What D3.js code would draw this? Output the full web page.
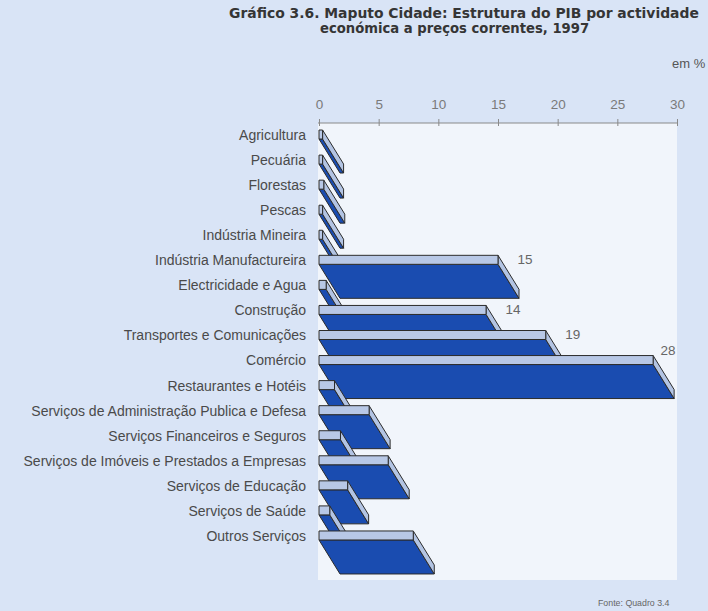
<!DOCTYPE html>
<html>
<head>
<meta charset="utf-8">
<script src="https://cdn.jsdelivr.net/npm/d3@7"></script>
<style>
  html, body { margin: 0; padding: 0; background: #d9e4f6; }
  svg { display: block; }
</style>
</head>
<body>
<svg id="chart" width="708" height="611"></svg>
<script>
// PIB de Maputo Cidade por actividade económica, 1997 (em %)
const categories = [
  "Agricultura",
  "Pecuária",
  "Florestas",
  "Pescas",
  "Indústria Mineira",
  "Indústria Manufactureira",
  "Electricidade e Agua",
  "Construção",
  "Transportes e Comunicações",
  "Comércio",
  "Restaurantes e Hotéis",
  "Serviços de Administração Publica e Defesa",
  "Serviços Financeiros e Seguros",
  "Serviços de Imóveis e Prestados a Empresas",
  "Serviços de Educação",
  "Serviços de Saúde",
  "Outros Serviços"
];
const shares = [0.3, 0.3, 0.4, 0.3, 0.3, 15, 0.6, 14, 19, 28, 1.3, 4.2, 1.8, 5.8, 2.4, 0.9, 7.9];
// only the larger shares carry a value label
const labelled = [false, false, false, false, false, true, false, true, true, true, false, false, false, false, false, false, false];
const tickValues = [0, 5, 10, 15, 20, 25, 30];

const titleLines = [
  "Gráfico 3.6. Maputo Cidade: Estrutura do PIB por actividade",
  "económica a preços correntes, 1997"
];
const unitText = "em %";
const sourceText = "Fonte: Quadro 3.4";

const svg = d3.select("#chart");
const W = 708, H = 611;
const sans = "Liberation Sans, Arial, sans-serif";

// plot panel
const panel = { left: 318, right: 677, top: 123, bottom: 580 };

const x = d3.scaleLinear().domain([0, 30]).range([319, 677]);
const y = d3.scaleBand().domain(categories).range([122.5, 548.5]).padding(0);

// 3-D bar geometry
const faceH = 9;     // height of the light front face
const depthX = 21;   // oblique depth offset
const depthY = 34;

svg.append("rect").attr("width", W).attr("height", H).attr("fill", "#d9e4f6");
svg.append("rect")
  .attr("x", panel.left).attr("y", panel.top)
  .attr("width", panel.right - panel.left).attr("height", panel.bottom - panel.top)
  .attr("fill", "#f1f5fb");

// title
const title = svg.append("g")
  .attr("font-family", "DejaVu Sans, Verdana, sans-serif")
  .attr("font-weight", "bold")
  .attr("fill", "#353535");
title.append("text").attr("x", 229).attr("y", 18).attr("font-size", 13.9).text(titleLines[0]);
title.append("text").attr("x", 320).attr("y", 33).attr("font-size", 13.2).text(titleLines[1]);

svg.append("text")
  .attr("x", 672).attr("y", 68)
  .attr("font-family", sans)
  .attr("font-size", 13)
  .attr("fill", "#555")
  .text(unitText);

// top value axis
const axis = d3.axisTop(x).tickValues(tickValues).tickSize(0).tickPadding(14);
const gAxis = svg.append("g").attr("transform", `translate(0,${panel.top})`).call(axis);
gAxis.select(".domain").attr("stroke", "#8a8a8a").attr("stroke-width", 1.2)
  .attr("d", `M${panel.left},0H${panel.right}`);
gAxis.selectAll(".tick text")
  .attr("font-family", sans)
  .attr("font-size", 13.5)
  .attr("fill", "#7a7a7a");
gAxis.selectAll(".tick").append("line")
  .attr("y1", -4).attr("y2", 3)
  .attr("stroke", "#8a8a8a");

// category labels
svg.append("g")
  .selectAll("text")
  .data(categories)
  .join("text")
  .attr("x", 306)
  .attr("y", d => y(d) + y.bandwidth() / 2)
  .attr("dy", "0.35em")
  .attr("text-anchor", "end")
  .attr("font-family", sans)
  .attr("font-size", 14)
  .attr("fill", "#4a4a4a")
  .text(d => d);

// bars, drawn top to bottom so each lower bar sits over the one above
const rows = categories.map((c, i) => ({ cat: c, v: shares[i], lab: labelled[i] }));
const bars = svg.append("g")
  .attr("stroke", "#2b2b2b")
  .attr("stroke-width", 1)
  .attr("stroke-linejoin", "round");

rows.forEach(d => {
  const x0 = x(0), x1 = x(d.v);
  const yt = y(d.cat) + y.bandwidth() / 2 - 5;
  const yb = yt + faceH;
  const g = bars.append("g");
  // underside
  g.append("path")
    .attr("d", `M${x0},${yb}L${x1},${yb}L${x1 + depthX},${yb + depthY}L${x0 + depthX},${yb + depthY}Z`)
    .attr("fill", "#1a4cb0");
  // end face
  g.append("path")
    .attr("d", `M${x1},${yt}L${x1 + depthX},${yt + depthY}L${x1 + depthX},${yb + depthY}L${x1},${yb}Z`)
    .attr("fill", "#b3c4e3");
  // front face
  g.append("rect")
    .attr("x", x0).attr("y", yt)
    .attr("width", x1 - x0).attr("height", faceH)
    .attr("fill", "#b8c8e6");
});

// value labels
const labelMaxX = panel.right - 9;
svg.append("g")
  .selectAll("text")
  .data(rows.filter(d => d.lab))
  .join("text")
  .attr("x", d => Math.min(x(d.v) + 27, labelMaxX))
  .attr("y", d => {
    const yt = y(d.cat) + y.bandwidth() / 2 - 5;
    return x(d.v) + 27 > labelMaxX ? yt - 5 : yt + 4;
  })
  .attr("dy", "0.35em")
  .attr("text-anchor", "middle")
  .attr("font-family", sans)
  .attr("font-size", 13.5)
  .attr("fill", "#666")
  .text(d => d3.format("d")(d.v));

// source note
svg.append("text")
  .attr("x", 598).attr("y", 606)
  .attr("font-family", sans)
  .attr("font-size", 8.8)
  .attr("fill", "#666")
  .text(sourceText);
</script>
</body>
</html>
